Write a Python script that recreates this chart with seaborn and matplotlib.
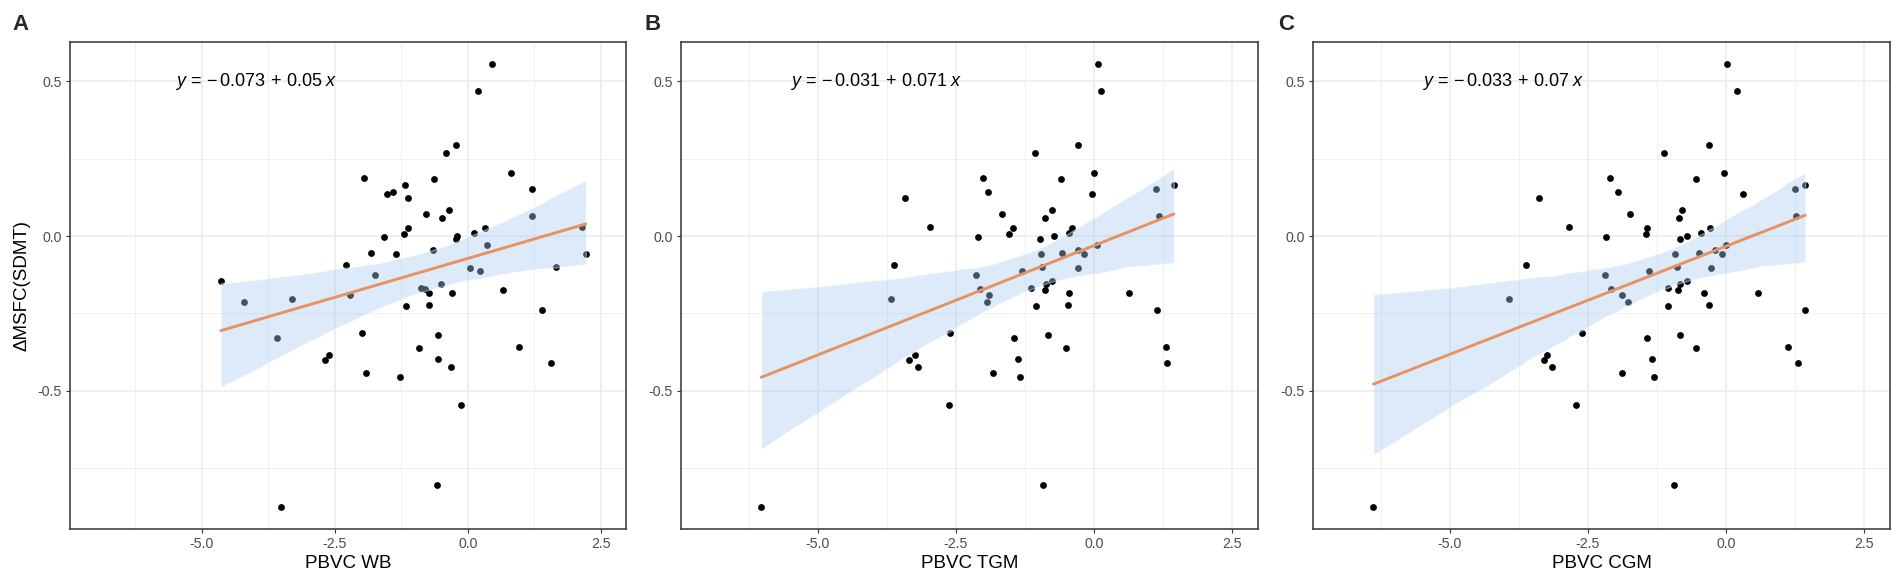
import numpy as np
import matplotlib
matplotlib.use("Agg")
import matplotlib.pyplot as plt
import seaborn as sns

# change in MSFC(SDMT), same subjects in every panel
msfc_sdmt = [0.556, 0.469, 0.295, 0.270, 0.203, 0.188, 0.183, 0.165, 0.152, 0.144,
             0.135, 0.122, 0.084, 0.072, 0.065, 0.058, 0.028, 0.025, 0.025, 0.010,
             0.005, 0.000, -0.003, -0.009, -0.030, -0.045, -0.055, -0.057, -0.058, -0.095,
             -0.101, -0.104, -0.112, -0.125, -0.145, -0.155, -0.167, -0.172, -0.176, -0.184,
             -0.185, -0.192, -0.205, -0.212, -0.223, -0.226, -0.240, -0.313, -0.319, -0.329,
             -0.358, -0.361, -0.385, -0.397, -0.401, -0.412, -0.422, -0.443, -0.455, -0.546,
             -0.806, -0.876]

pbvc_wb = [0.45, 0.20, -0.22, -0.41, 0.81, -1.95, -0.63, -1.17, 1.21, -1.41,
           -1.51, -1.12, -0.36, -0.78, 1.21, -0.49, 2.15, -1.12, 0.32, 0.12,
           -1.19, -0.21, -1.58, -0.22, 0.36, -0.66, -1.81, 2.22, -1.34, -2.28,
           1.65, 0.04, 0.24, -1.75, -4.64, -0.50, -0.87, -0.80, 0.66, -0.30,
           -0.72, -2.22, -3.30, -4.21, -0.72, -1.16, 1.39, -1.98, -0.56, -3.59,
           0.97, -0.91, -2.61, -0.55, -2.68, 1.56, -0.31, -1.92, -1.27, -0.13,
           -0.58, -3.50]

pbvc_tgm = [0.07, 0.13, -0.29, -1.07, 0.00, -2.00, -0.60, 1.45, 1.12, -1.92,
            -0.04, -3.41, -0.76, -1.66, 1.19, -0.89, -2.97, -1.47, -0.39, -0.45,
            -1.54, -0.72, -2.09, -0.97, 0.06, -0.28, -0.58, -0.17, -0.96, -3.61,
            -0.94, -0.28, -1.30, -2.13, -0.75, -0.87, -1.13, -2.06, -0.89, -0.45,
            0.64, -1.90, -3.67, -1.93, -0.46, -1.05, 1.15, -2.60, -0.83, -1.44,
            1.30, -0.50, -3.23, -1.37, -3.34, 1.32, -3.19, -1.82, -1.33, -2.62,
            -0.92, -6.02]

pbvc_cgm = [0.03, 0.21, -0.30, -1.11, -0.04, -2.10, -0.54, 1.43, 1.25, -1.95,
            0.31, -3.39, -0.79, -1.74, 1.28, -0.85, -2.84, -1.42, -0.28, -0.45,
            -1.45, -0.71, -2.16, -0.83, 0.00, -0.19, -0.48, -0.06, -0.92, -3.62,
            -0.88, -0.27, -1.39, -2.19, -0.70, -0.83, -1.04, -2.07, -0.86, -0.39,
            0.58, -1.87, -3.92, -1.77, -0.31, -1.04, 1.44, -2.60, -0.82, -1.42,
            1.13, -0.54, -3.24, -1.33, -3.30, 1.31, -3.14, -1.87, -1.30, -2.72,
            -0.94, -6.38]

panel_tags = ["A", "B", "C"]
x_titles = ["PBVC WB", "PBVC TGM", "PBVC CGM"]
equations = [r"$y\,=\,{-}\,0.073\,+\,0.05\;x$",
             r"$y\,=\,{-}\,0.031\,+\,0.071\;x$",
             r"$y\,=\,{-}\,0.033\,+\,0.07\;x$"]
y_title = "\u0394MSFC(SDMT)"

sns.set_theme(style="white")
plt.rcParams["font.family"] = ["Liberation Sans", "DejaVu Sans"]
plt.rcParams["mathtext.fontset"] = "custom"
plt.rcParams["mathtext.rm"] = "Liberation Sans"
plt.rcParams["mathtext.it"] = "Liberation Sans:italic"
plt.rcParams["mathtext.bf"] = "Liberation Sans:bold"
plt.rcParams["axes.unicode_minus"] = False

W, H = 1902, 584
fig = plt.figure(figsize=(W / 100, H / 100), dpi=100)

# axes boxes in pixels: left, width
boxes = [(70, 556), (681, 577), (1313, 577)]
top, bottom = 42, 529
tag_x = [12, 645, 1278]

line_color = "#e8935f"
band_color = "#a8cbf3"
border = "#333333"

ymin, ymax = min(msfc_sdmt), max(msfc_sdmt)
ypad = 0.05 * (ymax - ymin)

for i, xs in enumerate([pbvc_wb, pbvc_tgm, pbvc_cgm]):
    left, width = boxes[i]
    ax = fig.add_axes([left / W, 1 - bottom / H, width / W, (bottom - top) / H])

    sns.regplot(x=np.array(xs), y=np.array(msfc_sdmt), ax=ax, ci=95, n_boot=1000, seed=7,
                scatter_kws=dict(s=24, color="black", linewidths=0, alpha=1),
                line_kws=dict(color=line_color, lw=2.1))
    band = ax.collections[-1]
    band.set_facecolor(band_color)
    band.set_alpha(0.4)

    ax.set_xlim(-7.475, 2.975)
    ax.set_ylim(ymin - ypad, ymax + ypad)

    ax.set_xticks([-5, -2.5, 0, 2.5])
    ax.set_xticklabels(["-5.0", "-2.5", "0.0", "2.5"])
    ax.set_xticks([-6.25, -3.75, -1.25, 1.25], minor=True)
    ax.set_yticks([-0.5, 0, 0.5])
    ax.set_yticklabels(["-0.5", "0.0", "0.5"])
    ax.set_yticks([-0.75, -0.25, 0.25], minor=True)

    ax.grid(which="major", color="#ebebeb", lw=1.1)
    ax.grid(which="minor", color="#ebebeb", lw=0.55)
    ax.set_axisbelow(True)

    ax.tick_params(which="major", length=3.2, width=0.8, color=border, pad=2.5,
                   labelsize=10.2, labelcolor="#4d4d4d", bottom=True, left=True)
    ax.tick_params(which="minor", length=0)
    for s in ax.spines.values():
        s.set_color(border)
        s.set_linewidth(1.1)

    ax.set_xlabel(x_titles[i], fontsize=13.5, color="black", labelpad=3)
    if i == 0:
        ax.set_ylabel(y_title, fontsize=13.5, color="black", labelpad=5)
    else:
        ax.set_ylabel("")

    ax.text(-5.5, 0.5, equations[i], fontsize=13, ha="left", va="center", color="black")

    fig.text(tag_x[i] / W, 1 - 14 / H, panel_tags[i], fontsize=16, fontweight="bold",
             ha="left", va="top")

fig.savefig("out.png", dpi=100)
